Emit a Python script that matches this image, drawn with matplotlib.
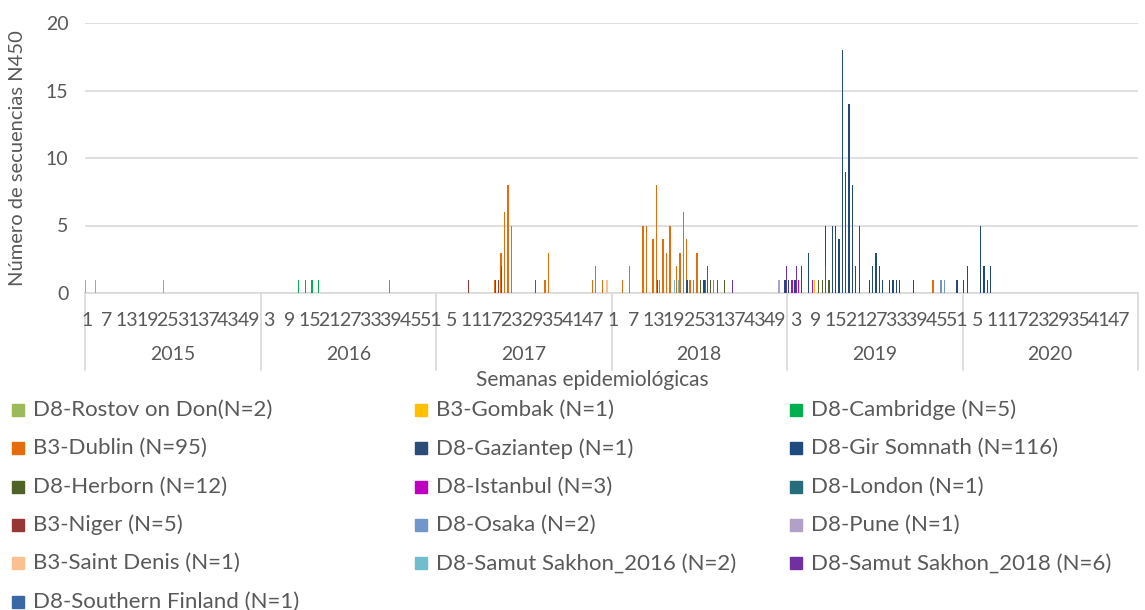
import matplotlib.pyplot as plt
import matplotlib.transforms as mtransforms
from matplotlib.patches import Rectangle

plt.rcParams['font.family'] = ['Lato', 'DejaVu Sans']
TXT = '#595959'
GRID = '#D9D9D9'

years = [2015, 2016, 2017, 2018, 2019, 2020]
weeks_per_year = 52

# (año, semana, número de secuencias)
rostov = [(2015, 1, 1), (2015, 4, 1), (2015, 24, 1)]
gombak = [(2019, 9, 1)]
cambridge = [(2016, 12, 1), (2016, 14, 1), (2016, 16, 1), (2016, 18, 1)]
dublin = [(2016, 39, 1),
          (2017, 18, 1), (2017, 20, 3), (2017, 21, 6), (2017, 22, 8), (2017, 23, 5),
          (2017, 33, 1), (2017, 34, 3), (2017, 47, 1), (2017, 48, 2), (2017, 50, 1),
          (2018, 4, 1), (2018, 6, 2), (2018, 10, 5), (2018, 11, 5), (2018, 13, 4),
          (2018, 14, 8), (2018, 15, 1), (2018, 16, 4), (2018, 17, 3), (2018, 18, 5),
          (2018, 20, 2), (2018, 21, 3), (2018, 22, 6), (2018, 23, 4), (2018, 24, 1),
          (2018, 25, 1), (2018, 26, 3), (2018, 31, 1),
          (2019, 44, 1)]
gaziantep = [(2018, 23, 1)]
gir_somnath = [(2018, 28, 1), (2018, 52, 1),
               (2019, 1, 1), (2019, 3, 1), (2019, 5, 2), (2019, 7, 3), (2019, 12, 5),
               (2019, 14, 5), (2019, 15, 5), (2019, 16, 4), (2019, 17, 18), (2019, 18, 9),
               (2019, 19, 14), (2019, 20, 8), (2019, 21, 2), (2019, 22, 5), (2019, 25, 1),
               (2019, 26, 2), (2019, 27, 3), (2019, 28, 2), (2019, 29, 1), (2019, 31, 1),
               (2019, 32, 1), (2019, 33, 1), (2019, 34, 1), (2019, 38, 1), (2019, 51, 1),
               (2020, 1, 1), (2020, 2, 2), (2020, 6, 5), (2020, 7, 2), (2020, 8, 1),
               (2020, 9, 2)]
herborn = [(2017, 20, 2), (2018, 27, 1), (2018, 29, 2), (2018, 30, 1), (2018, 32, 1),
           (2018, 34, 1), (2019, 10, 1), (2019, 11, 1), (2019, 12, 2), (2019, 13, 1)]
istanbul = [(2019, 2, 1), (2019, 4, 1), (2019, 8, 1)]
london = [(2017, 30, 1)]
niger = [(2017, 10, 1), (2017, 18, 1), (2017, 19, 1), (2018, 14, 1)]
osaka = [(2019, 46, 1), (2019, 47, 1)]
pune = [(2018, 50, 1)]
saint_denis = [(2017, 51, 1)]
samut_2016 = [(2018, 19, 1), (2018, 20, 1)]
samut_2018 = [(2018, 36, 1), (2018, 52, 2), (2019, 3, 2)]
southern_finland = [(2018, 28, 1)]

series = [
    ('D8-Rostov on Don(N=2)', '#9BBB59', rostov),
    ('B3-Gombak (N=1)', '#FFC000', gombak),
    ('D8-Cambridge (N=5)', '#00B050', cambridge),
    ('B3-Dublin (N=95)', '#E46C0A', dublin),
    ('D8-Gaziantep (N=1)', '#2B4B78', gaziantep),
    ('D8-Gir Somnath (N=116)', '#1F4A80', gir_somnath),
    ('D8-Herborn (N=12)', '#4F6228', herborn),
    ('D8-Istanbul (N=3)', '#C000C0', istanbul),
    ('D8-London (N=1)', '#266C7A', london),
    ('B3-Niger (N=5)', '#953735', niger),
    ('D8-Osaka (N=2)', '#7096CB', osaka),
    ('D8-Pune (N=1)', '#B1A0C7', pune),
    ('B3-Saint Denis (N=1)', '#FAC090', saint_denis),
    ('D8-Samut Sakhon_2016 (N=2)', '#6FBDCF', samut_2016),
    ('D8-Samut Sakhon_2018 (N=6)', '#7030A0', samut_2018),
    ('D8-Southern Finland (N=1)', '#3C67A5', southern_finland),
]

n_cat = len(years) * weeks_per_year

fig = plt.figure(figsize=(11.45, 6.1), dpi=100)
ax = fig.add_axes([85 / 1145, 1 - 293 / 610, (1138 - 85) / 1145, 270 / 610])

ns = len(series)
for k, (name, color, data) in enumerate(series):
    xs = [(y - years[0]) * weeks_per_year + (w - 1) + (k - (ns - 1) / 2) * 0.045 for y, w, v in data]
    vals = [v for y, w, v in data]
    ax.bar(xs, vals, width=0.38, color=color, linewidth=0, zorder=3)

ax.set_xlim(-0.5, n_cat - 0.5)
ax.set_ylim(0, 20)
ax.set_yticks([0, 5, 10, 15, 20])
ax.tick_params(axis='y', length=0, labelsize=14, labelcolor=TXT, pad=12)
ax.set_xticks([])
ax.grid(axis='y', color=GRID, linewidth=1.2, zorder=0)
for s in ['top', 'right', 'left']:
    ax.spines[s].set_visible(False)
ax.spines['bottom'].set_color(GRID)
ax.spines['bottom'].set_linewidth(1.2)

# eje de categorías en dos niveles
trans = mtransforms.blended_transform_factory(ax.transData, fig.transFigure)
for i in range(0, n_cat, 6):
    ax.text(i, 1 - 320 / 610, str(i % weeks_per_year + 1), transform=trans,
            ha='center', va='center', fontsize=14, color=TXT)
for j, yr in enumerate(years):
    x0 = j * weeks_per_year - 0.5
    ax.plot([x0, x0], [1 - 293 / 610, 1 - 370 / 610], transform=trans,
            color=GRID, lw=1.2, clip_on=False)
    ax.text(x0 + weeks_per_year / 2, 1 - 355 / 610, str(yr), transform=trans,
            ha='center', va='center', fontsize=14, color=TXT)
ax.plot([n_cat - 0.5, n_cat - 0.5], [1 - 293 / 610, 1 - 370 / 610], transform=trans,
        color=GRID, lw=1.2, clip_on=False)

fig.text(592 / 1145, 1 - 380 / 610, 'Semanas epidemiológicas', ha='center', va='center',
         fontsize=15, color=TXT)
fig.text(18 / 1145, 1 - 158 / 610, 'Número de secuencias N450', rotation=90,
         ha='center', va='center', fontsize=14.5, color=TXT)

# leyenda (3 columnas, orden por filas)
col_x = [12, 415, 790]
for k, (name, color, data) in enumerate(series):
    r, c = divmod(k, 3)
    yc = 410 + r * 38.3
    fig.add_artist(Rectangle((col_x[c] / 1145, 1 - (yc + 6) / 610), 12 / 1145, 12 / 610,
                             transform=fig.transFigure, color=color))
    fig.text((col_x[c] + 21) / 1145, 1 - yc / 610, name, ha='left', va='center',
             fontsize=16, color=TXT)

fig.savefig('out.png', dpi=100)
